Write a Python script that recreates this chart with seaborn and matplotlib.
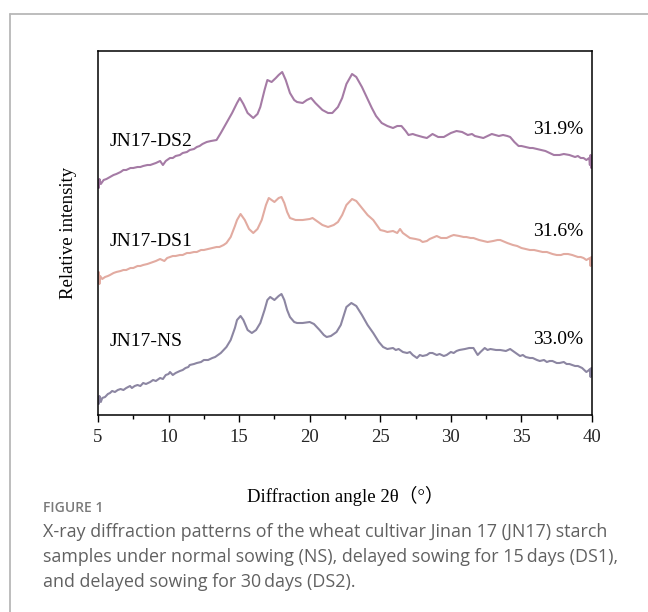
import numpy as np
import pandas as pd
import matplotlib
matplotlib.use("Agg")
import matplotlib.pyplot as plt
from matplotlib.lines import Line2D
from matplotlib.ticker import MultipleLocator
import seaborn as sns

# ---- data (2theta, relative intensity in arbitrary units; read as pixel heights) ----
ns_x = [5.0, 5.05, 5.1, 5.2, 5.3, 5.5, 5.7, 5.85, 6.0, 6.2, 6.4, 6.6, 6.8, 7.0, 7.27, 7.4, 7.6, 7.8, 8.0, 8.2,
        8.4, 8.7, 8.9, 9.1, 9.4, 9.6, 9.8, 10.0, 10.1, 10.3, 10.5, 10.8, 11.0, 11.2, 11.4, 11.5, 11.8, 12.0, 12.3,
        12.5, 12.8, 13.1, 13.3, 13.5, 13.7, 13.9, 14.1, 14.4, 14.7, 14.85, 15.1, 15.3, 15.6, 15.9, 16.2, 16.5,
        16.8, 17.0, 17.2, 17.5, 17.8, 18.0, 18.2, 18.4, 18.6, 18.9, 19.1, 19.5, 20.0, 20.3, 20.7, 21.0, 21.2,
        21.5, 21.9, 22.2, 22.6, 22.95, 23.3, 23.7, 24.1, 24.5, 24.9, 25.2, 25.5, 25.9, 26.1, 26.3, 26.6, 26.9,
        27.1, 27.3, 27.6, 27.8, 28.0, 28.3, 28.5, 28.7, 29.0, 29.2, 29.5, 29.7, 30.0, 30.2, 30.4, 30.6, 31.0,
        31.3, 31.6, 31.9, 32.1, 32.4, 32.6, 32.8, 33.2, 33.5, 33.9, 34.2, 34.5, 34.7, 34.9, 35.1, 35.3, 35.6,
        35.8, 36.1, 36.3, 36.6, 36.8, 37.0, 37.2, 37.5, 37.7, 38.0, 38.2, 38.4, 38.6, 38.8, 39.0, 39.3, 39.6,
        39.8, 39.85, 39.9, 39.95, 40.0]
ns_py = [400, 404, 396, 402, 398, 397, 394, 393, 391, 392, 390, 389, 390, 388, 386, 388, 386, 385, 386, 383,
         384, 382, 380, 381, 378, 379, 375, 374, 372, 375, 373, 371, 370, 368, 367, 365, 364, 363, 362,
         360, 360, 358, 357, 355, 353, 350, 347, 340, 328, 320, 316, 320, 330, 333, 330, 323,
         310, 300, 297, 300, 296, 294, 300, 310, 317, 322, 323, 323, 322, 324, 330, 335, 337,
         336, 332, 325, 307, 303, 306, 315, 325, 333, 342, 347, 349, 348, 350, 349, 352, 353,
         352, 355, 358, 355, 356, 355, 353, 353, 355, 354, 356, 355, 352, 353, 351, 350, 349,
         348, 348, 355, 352, 348, 350, 349, 350, 350, 351, 349, 352, 354, 356, 355, 357, 358,
         358, 360, 361, 360, 362, 361, 361, 363, 363, 362, 364, 364, 365, 366, 366, 368, 372,
         370, 369, 377, 368, 373]

ds1_x = [5.0, 5.05, 5.1, 5.15, 5.3, 5.5, 5.7, 5.85, 6.1, 6.3, 6.6, 6.8, 7.0, 7.3, 7.5, 7.8, 8.0, 8.2, 8.5, 8.7,
         8.9, 9.1, 9.4, 9.7, 9.9, 10.1, 10.3, 10.5, 10.8, 11.0, 11.3, 11.5, 11.8, 12.0, 12.3, 12.5, 12.8, 13.1,
         13.4, 13.6, 13.9, 14.1, 14.4, 14.7, 14.85, 15.1, 15.4, 15.7, 16.0, 16.3, 16.6, 16.9, 17.1, 17.3, 17.5,
         17.8, 18.0, 18.2, 18.4, 18.6, 19.0, 19.5, 20.0, 20.2, 20.5, 20.9, 21.3, 21.7, 22.0, 22.3, 22.6, 23.0, 23.3,
         23.7, 24.1, 24.5, 24.8, 25.0, 25.3, 25.5, 25.9, 26.2, 26.4, 26.6, 26.9, 27.1, 27.5, 27.8, 28.0, 28.3,
         28.5, 29.0, 29.3, 29.7, 30.0, 30.2, 30.6, 30.9, 31.1, 31.4, 31.6, 32.0, 32.3, 32.6, 33.0, 33.3, 33.5,
         34.0, 34.4, 34.7, 35.0, 35.3, 35.6, 35.9, 36.2, 36.5, 36.8, 37.0, 37.2, 37.5, 37.8, 38.0, 38.3, 38.6,
         38.8, 39.0, 39.2, 39.4, 39.6, 39.85, 39.9, 39.95, 40.0]
ds1_py = [280, 272, 284, 276, 279, 277, 276, 275, 273, 272, 271, 270, 270, 268, 268, 266, 266, 265, 264, 263,
          262, 261, 259, 261, 258, 257, 256, 256, 255, 255, 253, 253, 252, 252, 250, 250, 249, 248,
          247, 247, 245, 243, 237, 226, 220, 214, 220, 229, 233, 229, 220, 205, 198, 200, 202,
          198, 197, 203, 212, 218, 220, 220, 219, 218, 221, 225, 227, 225, 222, 215, 205, 199, 201,
          208, 215, 220, 226, 230, 231, 232, 231, 233, 229, 233, 236, 238, 239, 240, 242, 241,
          239, 236, 238, 238, 236, 235, 236, 237, 237, 238, 238, 240, 241, 242, 241, 240, 240,
          243, 245, 246, 248, 249, 250, 250, 251, 252, 252, 253, 254, 255, 255, 254, 254, 255,
          256, 257, 257, 258, 260, 258, 266, 257, 262]

ds2_x = [5.0, 5.05, 5.1, 5.2, 5.4, 5.6, 5.85, 6.1, 6.3, 6.6, 6.8, 7.0, 7.3, 7.5, 7.8, 8.0, 8.2, 8.5, 8.7, 8.9,
         9.1, 9.4, 9.6, 9.8, 10.1, 10.3, 10.5, 10.8, 11.0, 11.3, 11.5, 11.8, 12.0, 12.2, 12.4, 12.7, 13.0, 13.4,
         13.7, 14.1, 14.5, 14.85, 15.05, 15.3, 15.6, 16.0, 16.3, 16.5, 16.8, 17.0, 17.3, 17.6, 17.8, 18.05, 18.3,
         18.6, 18.9, 19.1, 19.5, 19.8, 20.1, 20.4, 20.9, 21.3, 21.6, 22.0, 22.3, 22.6, 23.0, 23.3, 23.7, 24.0,
         24.4, 24.7, 25.1, 25.5, 25.9, 26.2, 26.5, 26.8, 27.0, 27.3, 27.5, 28.0, 28.3, 28.7, 29.1, 29.5, 30.0,
         30.4, 30.8, 31.2, 31.5, 31.7, 32.0, 32.3, 32.6, 32.9, 33.4, 33.7, 34.0, 34.2, 34.5, 34.8, 35.0, 35.3,
         35.6, 35.8, 36.1, 36.4, 36.7, 37.0, 37.3, 37.7, 38.0, 38.4, 38.8, 39.0, 39.2, 39.4, 39.6, 39.8, 39.85,
         39.9, 39.95, 40.0]
ds2_py = [183, 188, 179, 184, 180, 179, 177, 175, 174, 172, 170, 170, 168, 168, 167, 167, 166, 165, 165, 164,
          163, 161, 165, 161, 158, 158, 156, 155, 153, 152, 150, 149, 147, 146, 144, 142, 141, 140,
          133, 123, 113, 103, 98, 104, 113, 118, 114, 107, 90, 80, 82, 78, 75, 72, 80,
          93, 100, 102, 103, 100, 98, 103, 110, 113, 113, 107, 98, 84, 74, 77, 87, 96,
          108, 116, 123, 126, 128, 126, 126, 131, 135, 134, 135, 137, 138, 134, 137, 137, 133,
          131, 132, 135, 134, 136, 137, 138, 136, 134, 136, 135, 136, 137, 142, 146, 146, 147,
          148, 148, 149, 150, 151, 153, 155, 155, 154, 155, 157, 156, 158, 158, 160, 158, 165,
          155, 168, 160]

ns_y = [415 - v for v in ns_py]
ds1_y = [415 - v for v in ds1_py]
ds2_y = [415 - v for v in ds2_py]

sample_names = ["JN17-NS", "JN17-DS1", "JN17-DS2"]
crystallinity = ["33.0%", "31.6%", "31.9%"]
x_ticks = [5, 10, 15, 20, 25, 30, 35, 40]

df = pd.concat([
    pd.DataFrame({"angle": ns_x, "intensity": ns_y, "sample": "JN17-NS"}),
    pd.DataFrame({"angle": ds1_x, "intensity": ds1_y, "sample": "JN17-DS1"}),
    pd.DataFrame({"angle": ds2_x, "intensity": ds2_y, "sample": "JN17-DS2"}),
], ignore_index=True)

palette = {"JN17-NS": "#8c86a2", "JN17-DS1": "#e2aba1", "JN17-DS2": "#a57ba5"}

sns.set_theme(style="white")
serif = ["Liberation Serif", "Noto Sans CJK SC", "DejaVu Serif"]
plt.rcParams["font.family"] = serif

fig = plt.figure(figsize=(6.48, 6.12), dpi=100)
ax = fig.add_axes([98 / 648, 1 - 415 / 612, (592 - 98) / 648, (415 - 51) / 612])

sns.lineplot(data=df, x="angle", y="intensity", hue="sample", palette=palette,
             estimator=None, sort=False, linewidth=1.5, legend=False, ax=ax)

ax.set_xlim(5, 40)
ax.set_ylim(0, 364)
ax.set_xticks(x_ticks)
ax.set_xticklabels([str(t) for t in x_ticks])
ax.xaxis.set_minor_locator(MultipleLocator(2.5))
ax.set_yticks([])
ax.tick_params(axis="x", which="major", direction="out", length=5, width=1, color="black",
               labelsize=13.5, pad=5, bottom=True)
ax.tick_params(axis="x", which="minor", direction="out", length=3, width=1, color="black", bottom=True)
for s in ax.spines.values():
    s.set_color("black")
    s.set_linewidth(1.1)

ax.set_xlabel("Diffraction angle 2θ（°）", fontsize=13.5, labelpad=29, color="black")
ax.set_ylabel("Relative intensity", fontsize=13.5, labelpad=15, color="black")

label_pos = {"JN17-NS": 415 - 341, "JN17-DS1": 415 - 242, "JN17-DS2": 415 - 142}
pct_pos = {"JN17-NS": 415 - 339, "JN17-DS1": 415 - 231, "JN17-DS2": 415 - 130}
for name, pct in zip(sample_names, crystallinity):
    ax.text(5.85, label_pos[name], name, fontsize=14, va="center", ha="left", color="black")
    ax.text(35.85, pct_pos[name], pct, fontsize=14, va="center", ha="left", color="black")

# outer card border (cropped on right and bottom)
fig.add_artist(Line2D([9.5 / 648, 9.5 / 648], [0, 1 - 14 / 612], transform=fig.transFigure,
                      color="#b8b8b8", linewidth=1.3))
fig.add_artist(Line2D([9.5 / 648, 1], [1 - 14 / 612, 1 - 14 / 612], transform=fig.transFigure,
                      color="#b8b8b8", linewidth=1.3))

cap_font = ["Open Sans", "DejaVu Sans"]
fig.text(43 / 648, 1 - 508 / 612, "FIGURE 1", fontsize=10, color="#7a7a7a", family=cap_font,
         fontweight="semibold", va="center", ha="left")
caption = ["X-ray diffraction patterns of the wheat cultivar Jinan 17 (JN17) starch",
           "samples under normal sowing (NS), delayed sowing for 15\u2009days (DS1),",
           "and delayed sowing for 30\u2009days (DS2)."]
for i, line in enumerate(caption):
    fig.text(43 / 648, 1 - (532 + 25 * i) / 612, line, fontsize=12.9, color="#616161",
             family=cap_font, va="center", ha="left")

fig.savefig("out.png", dpi=100)
